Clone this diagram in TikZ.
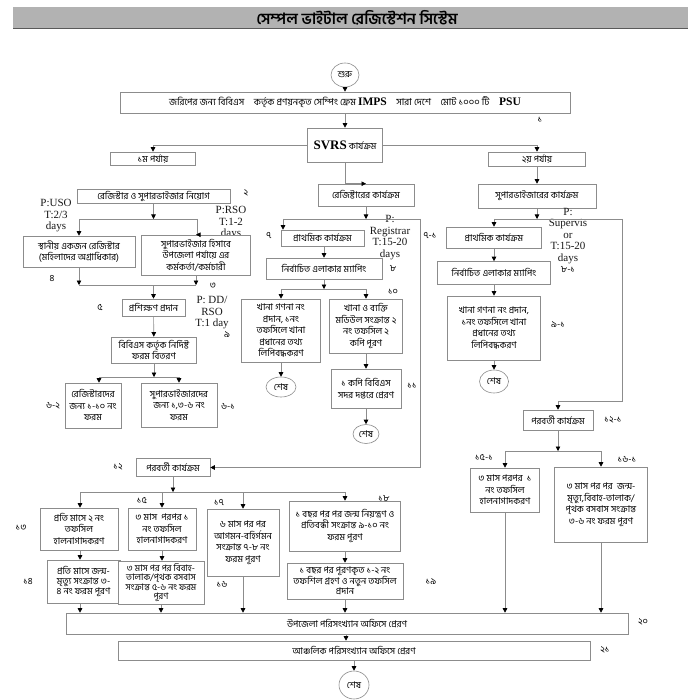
\documentclass[tikz,border=0pt]{standalone}
\usepackage{fontspec}
\setmainfont{Liberation Serif}
\newfontfamily\bn[Script=Bengali]{Hind Siliguri}
\usetikzlibrary{arrows.meta,shapes.geometric}
\newcommand\bnt{\bn\fontsize{9.3}{11.5}\selectfont}
\newcommand\bntt{\bn\fontsize{9.3}{10}\selectfont}
\newcommand\lat{\rmfamily\bfseries\fontsize{11.5}{12}\selectfont}
\newcommand\ptf{\rmfamily\fontsize{11}{11.5}\selectfont}
\begin{document}
\begin{tikzpicture}[x=1pt,y=-1pt,
  box/.style={draw=black!45, line width=0.6pt, fill=white, inner sep=0pt, align=center, font=\bnt, text=black},
  wh/.style 2 args={minimum width=#1pt, minimum height=#2pt},
  term/.style={ellipse, draw=black!45, line width=0.6pt, fill=white, inner sep=0pt, font=\bnt, text=black},
  ln/.style={draw=black!45, line width=0.6pt},
  arr/.style={ln, -{Triangle[width=4.5pt,length=4.5pt,color=black]}},
  lbl/.style={font=\bnt, inner sep=0pt, text=black},
  plbl/.style={font=\ptf, align=center, inner sep=0pt, text=black!90}]
\useasboundingbox (0,0) rectangle (700,700);
\fill[white] (0,0) rectangle (700,700);
% title bar
\fill[black!30] (13,7) rectangle (688,29);
\draw[black!65, line width=1.5pt] (13,28.3) -- (688,28.3);
\node[font=\bn\bfseries\fontsize{15.5}{16}\selectfont, text=black] (title) at (357,17.5) {সেম্পল ভাইটাল রেজিস্টেশন সিস্টেম};
% top
\node[term, minimum width=28pt, minimum height=24pt] (start) at (345,75) {শুরু};
\node[box, wh={450}{21}, font=\bn\fontsize{9.5}{11}\selectfont] (b1) at (345,102.5) {জরিপের জন্য বিবিএস\quad কর্তৃক প্রণয়নকৃত সেম্পিং ফ্রেম {\lat IMPS}\quad সারা দেশে\quad মোট ১০০০ টি\quad {\lat PSU}};
\node[lbl] (l1) at (540,120) {১};
\node[box, wh={75}{34}] (svrs) at (345,145) {{\rmfamily\bfseries\fontsize{13}{14}\selectfont SVRS} কার্যক্রম};
\node[box, wh={85}{13}] (p1) at (153,158.5) {১ম পর্যায়};
\node[box, wh={97}{14}] (p2) at (537,159) {২য় পর্যায়};
% left column
\node[box, wh={153}{14}] (b2) at (153.5,196) {রেজিস্টার ও সুপারভাইজার নিয়োগ};
\node[lbl] (l2) at (246,193) {২};
\node[plbl] (pu) at (56,216) {P:USO\\T:2/3\\days};
\node[plbl] (pr) at (231,223) {P:RSO\\T:1-2\\days};
\node[box, wh={112}{31}] (b4) at (79,251.5) {স্থানীয় একজন রেজিস্টার\\(মহিলাদের অগ্রাধিকার)};
\node[box, wh={109}{40}] (b3) at (196,255) {সুপারভাইজার হিসাবে\\উপজেলা পর্যায়ে এর\\কর্মকর্তা/কর্মচারী};
\node[lbl] (l4) at (52,279) {৪};
\node[lbl] (l3) at (213,286) {৩};
\node[box, wh={63}{17}] (b5) at (153.5,307.5) {প্রশিক্ষণ প্রদান};
\node[lbl] (l5) at (100,307) {৫};
\node[plbl] (pd) at (212,313) {P: DD/\\RSO\\T:1 day};
\node[lbl] (l9) at (227,335) {৯};
\node[box, wh={85}{26}, font=\bntt] (b6) at (154,350) {বিবিএস কর্তৃক নির্দিষ্ট\\ফরম বিতরণ};
\node[box, wh={56}{45}] (b62) at (93,405.5) {রেজিস্টারদের\\জন্য ১-১০ নং\\ফরম};
\node[box, wh={76}{44}] (b61) at (179,405) {সুপারভাইজারদের\\জন্য ১,৩-৬ নং\\ফরম};
\node[lbl] (l62) at (53,406) {৬-২};
\node[lbl] (l61) at (228,406) {৬-১};
% middle column
\node[box, wh={96}{22}] (r1) at (366,195) {রেজিষ্টারের কার্যক্রম};
\node[box, wh={83}{16}] (r7) at (322.5,238) {প্রাথমিক কার্যক্রম};
\node[lbl] (l7) at (269,236) {৭};
\node[plbl] (preg) at (390,237.5) {P:\\Registrar\\T:15-20\\days};
\node[box, wh={116}{21}] (r8) at (324,268.5) {নির্বাচিত এলাকার ম্যাপিং};
\node[lbl] (l8) at (393,269) {৮};
\node[lbl] (l10) at (393,292) {১০};
\node[box, wh={79}{63}] (r9) at (281,330.5) {খানা গণনা নং\\প্রদান, ১নং\\তফসিলে খানা\\প্রধানের তথ্য\\লিপিবদ্ধকরণ};
\node[box, wh={73}{54}] (r10) at (366,326) {খানা ও ব্যক্তি\\মডিউল সংক্রান্ত ২\\নং তফসিল ২\\কপি পূরণ};
\node[term, minimum width=30pt, minimum height=20pt] (e1) at (281,387) {শেষ};
\node[box, wh={70}{39}] (r11) at (366,388.5) {১ কপি বিবিএস\\সদর দপ্তরে প্রেরণ};
\node[lbl] (l11) at (412,386) {১১};
\node[term, minimum width=26pt, minimum height=19pt] (e2) at (366,434) {শেষ};
% right column
\node[box, wh={118}{24}] (s1) at (537,196) {সুপারভাইজারের কার্যক্রম};
\node[box, wh={95}{21}] (s7) at (494,237.5) {প্রাথমিক কার্যক্রম};
\node[lbl] (l71) at (430,236) {৭-১};
\node[plbl] (psup) at (568,236) {P:\\Supervis\\or\\T:15-20\\days};
\node[lbl] (l81) at (568,270) {৮-১};
\node[box, wh={113}{23}] (s8) at (494,273) {নির্বাচিত এলাকার ম্যাপিং};
\node[box, wh={93}{64}] (s9) at (494,328) {খানা গণনা নং প্রদান,\\১নং তফসিলে খানা\\প্রধানের তথ্য\\লিপিবদ্ধকরণ};
\node[lbl] (l91) at (558,325) {৯-১};
\node[term, minimum width=29pt, minimum height=23pt] (e3) at (494,381.5) {শেষ};
\node[box, wh={70}{20}] (s12) at (558,420) {পরবর্তী কার্যক্রম};
\node[lbl] (l121) at (613,420) {১২-১};
\node[box, wh={69}{44}] (s15) at (505,490) {৩ মাস পরপর\ \ ১\\নং তফসিল\\হালনাগাদকরণ};
\node[lbl] (l151) at (484,457) {১৫-১};
\node[box, wh={93}{75}] (s16) at (601,504.5) {৩ মাস পর পর\ \ জন্ম-\\মৃত্যু,বিবাহ-তালাক/\\পৃথক বসবাস সংক্রান্ত\\৩-৬ নং ফরম পূরণ};
\node[lbl] (l161) at (627,459) {১৬-১};
% bottom
\node[box, wh={74}{18}] (b12) at (173,467.5) {পরবর্তী কার্যক্রম};
\node[lbl] (l12) at (118,467) {১২};
\node[box, wh={78}{42}] (b13) at (79,529) {প্রতি মাসে ২ নং\\তফসিল\\হালনাগাদকরণ};
\node[lbl] (l13) at (21,528) {১৩};
\node[box, wh={73}{43}, font=\bntt] (b14) at (83.5,581.5) {প্রতি মাসে জন্ম-\\মৃত্যু সংক্রান্ত ৩-\\৪ নং ফরম পূরণ};
\node[lbl] (l14) at (28,582) {১৪};
\node[box, wh={68}{42}] (b15) at (162,529) {৩ মাস\ \ পরপর ১\\নং তফসিল\\হালনাগাদকরণ};
\node[lbl] (l15) at (142,500) {১৫};
\node[box, wh={86}{43}, font=\bn\fontsize{9}{9.6}\selectfont] (b16) at (161,582.5) {৩ মাস পর পর বিবাহ-\\তালাক/পৃথক বসবাস\\সংক্রান্ত ৫-৬ নং ফরম\\পূরণ};
\node[box, wh={72}{67}] (b17) at (243,542.5) {৬ মাস পর পর\\আগমন-বহির্গমন\\সংক্রান্ত ৭-৮ নং\\ফরম পূরণ};
\node[lbl] (l17) at (219,503) {১৭};
\node[lbl] (l16) at (222,584) {১৬};
\node[box, wh={111}{50}] (b18) at (345,526) {১ বছর পর পর জন্ম নিয়ন্ত্রণ ও\\প্রতিবন্ধী সংক্রান্ত ৯-১০ নং\\ফরম পূরণ};
\node[lbl] (l18) at (384,499) {১৮};
\node[box, wh={116}{36}, font=\bntt] (b19) at (345,581) {১ বছর পর পূরণকৃত ১-২ নং\\তফশিল গ্রহণ ও নতুন তফসিল\\প্রদান};
\node[lbl] (l19) at (431,582) {১৯};
\node[box, wh={562}{21}] (b20) at (347,623.5) {উপজেলা পরিসংখ্যান অফিসে প্রেরণ};
\node[lbl] (l20) at (643,622) {২০};
\node[box, wh={472}{19}] (b21) at (354,650.5) {আঞ্চলিক পরিসংখ্যান অফিসে প্রেরণ};
\node[lbl] (l21) at (605,650) {২১};
\node[term, minimum width=30pt, minimum height=28pt] (e4) at (354,685) {শেষ};
% junction coordinates
\coordinate (j2) at (153.5,219);
\coordinate (j2l) at (79,219);
\coordinate (j2r) at (197,219);
\coordinate (j3) at (153.5,285);
\coordinate (j6) at (154,377);
\coordinate (j6l) at (99,377);
\coordinate (j6r) at (179,377);
\coordinate (jr) at (366,219);
\coordinate (jrl) at (283,219);
\coordinate (jrr) at (420,219);
\coordinate (jrd) at (420,467.5);
\coordinate (j8) at (324,289);
\coordinate (js) at (537,219);
\coordinate (jsl) at (494,219);
\coordinate (jsr) at (622,219);
\coordinate (jsd) at (622,401);
\coordinate (jt) at (558,451);
\coordinate (jb) at (173,492);
\coordinate (jb13) at (80,492);
\coordinate (jb18) at (345,492);
\coordinate (j20) at (346,634);
% connectors top
\draw[arr] (start) -- (b1);
\draw[arr] (b1) -- (svrs);
\draw[arr] (svrs.west) -| (p1.north);
\draw[arr] (svrs.east) -| (p2.north);
\draw[arr] (svrs.south) |- (r1.north);
% left
\draw[arr] (b2.south) -- (j2);
\draw[ln] (j2l) -- (j2r);
\draw[arr] (j2l) -- (b4.north);
\draw[arr] (j2r) |- (b3.north);
\draw[arr] (b4.south) -- (b4.south |- j3);
\draw[arr] (b3.south) -- (b3.south |- j3);
\draw[ln] (b4.south |- j3) -- (b3.south |- j3);
\draw[arr] (j3) -- (b5.north);
\draw[arr] (b5) -- (b6);
\draw[arr] (b6.south) -- (j6);
\draw[ln] (j6l) -- (j6r);
\draw[arr] (j6l) -- (j6l |- b62.north);
\draw[arr] (j6r) -- (b61.north);
% middle
\draw[arr] (r1.south) -- (jr);
\draw[ln] (jrl) -- (jrr);
\draw[arr] (jrl) -- (jrl |- r7.north);
\draw[arr] (jrr) -- (jrd) -- (b12.east);
\draw[arr] (r7.south -| r8) -- (r8.north);
\draw[arr] (r8.south) -- (j8);
\draw[ln] (r9.north |- j8) -- (r10.north |- j8);
\draw[arr] (r9.north |- j8) -- (r9.north);
\draw[arr] (r10.north |- j8) -- (r10.north);
\draw[arr] (r9) -- (e1);
\draw[arr] (r10) -- (r11);
\draw[arr] (r11) -- (e2);
% right
\draw[arr] (p2) -- (s1);
\draw[arr] (s1.south) -- (js);
\draw[ln] (jsl) -- (jsr);
\draw[arr] (jsl) -- (s7.north);
\draw[arr] (jsr) -- (jsd) -| (s12.north);
\draw[arr] (s7) -- (s8);
\draw[arr] (s8) -- (s9);
\draw[arr] (s9) -- (e3);
\draw[arr] (s12.south) -- (jt);
\draw[ln] (s15.north |- jt) -- (s16.north |- jt);
\draw[arr] (s15.north |- jt) -- (s15.north);
\draw[arr] (s16.north |- jt) -- (s16.north);
\draw[arr] (s15.south) -- (s15.south |- b20.north);
\draw[arr] (s16.south) -- (s16.south |- b20.north);
% bottom
\draw[arr] (b12.south) -- (jb);
\draw[ln] (jb13) -- (jb18);
\draw[arr] (jb13) -- (jb13 |- b13.north);
\draw[arr] (b15.north |- jb) -- (b15.north);
\draw[arr] (b17.north |- jb) -- (b17.north);
\draw[arr] (jb18) -- (b18.north);
\draw[arr] (jb13 |- b13.south) -- (jb13 |- b14.north);
\draw[arr] (jb13 |- b14.south) -- (jb13 |- b20.north);
\draw[arr] (b15.south) -- (b15.south |- b16.north);
\draw[arr] (b16.south) -- (b16.south |- b20.north);
\draw[arr] (b17.south) -- (b17.south |- b20.north);
\draw[arr] (b18) -- (b19);
\draw[arr] (b19.south) -- (b19.south |- b20.north);
\draw[arr] (j20) -- (j20 |- b21.north);
\draw[arr] (b21.south) -- (e4);
\end{tikzpicture}
\end{document}
